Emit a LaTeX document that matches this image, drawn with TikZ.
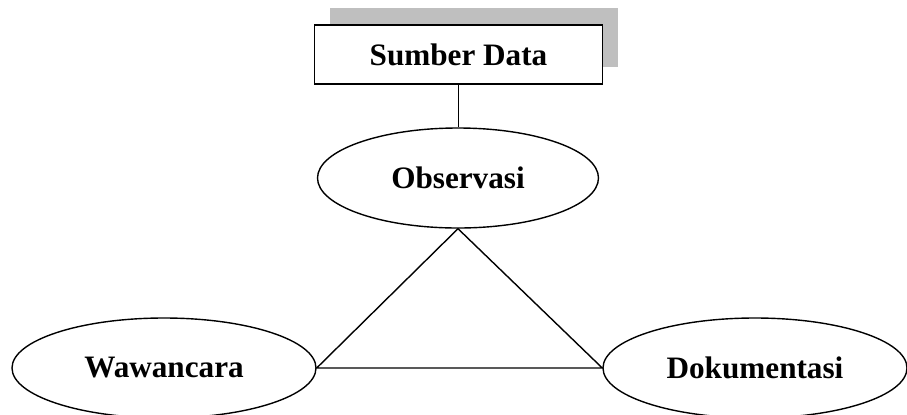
\documentclass[tikz,border=0pt]{standalone}
\usepackage{fontspec}
\setmainfont{Liberation Serif}
\usetikzlibrary{shapes.geometric,shadows}
\begin{document}
\begin{tikzpicture}[
    x=0.5pt, y=-0.5pt,
    line width=0.7pt,
    every node/.style={font=\fontsize{15.6}{18}\selectfont\bfseries, inner sep=0pt},
    sourcebox/.style={draw, fill=white, minimum width=144pt, minimum height=29.5pt,
      drop shadow={shadow xshift=7.5pt, shadow yshift=8.5pt, fill=black!25, opacity=1}},
    method/.style={draw, ellipse, minimum width=152pt, minimum height=50pt},
    mainmethod/.style={draw, ellipse, minimum width=140.5pt, minimum height=50pt}
  ]
  \useasboundingbox (0,0) rectangle (907,414);
  \node[sourcebox] (sumber) at (458.5,54.5) {Sumber Data};
  \node[mainmethod] (obs) at (458,178) {Observasi};
  \node[method] (waw) at (164,368) {Wawancara};
  \node[method] (dok) at (755,368) {Dokumentasi};
  \draw (sumber.south) -- (sumber.south |- obs.north);
  \draw (obs.south) -- (waw.east) -- (dok.west) -- (obs.south);
\end{tikzpicture}
\end{document}
